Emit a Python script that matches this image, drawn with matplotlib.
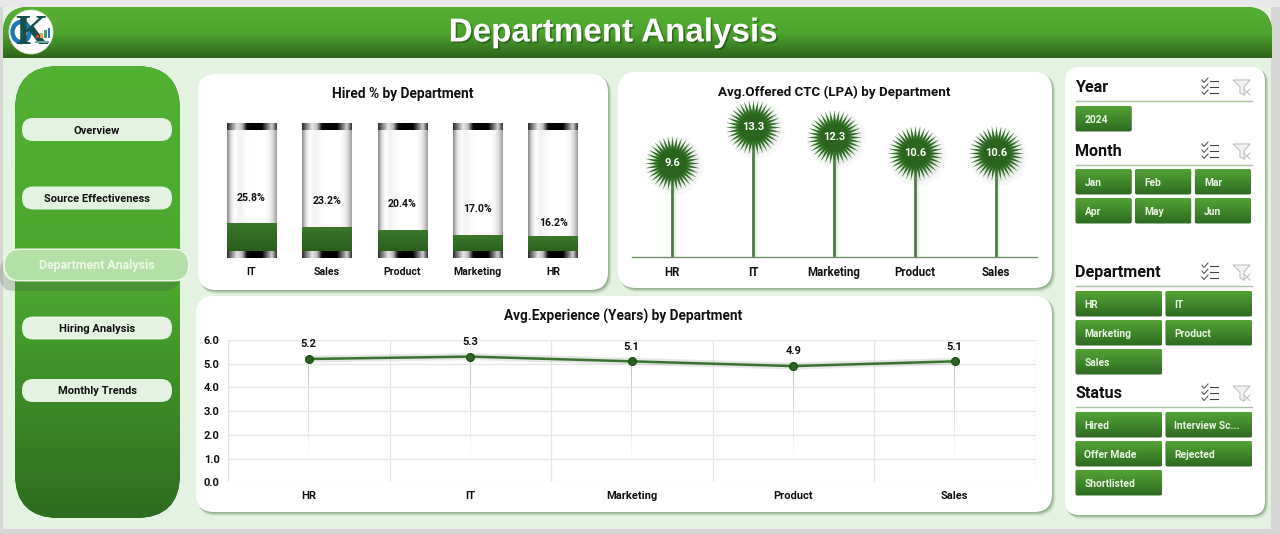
"""Department Analysis dashboard: hired %, offered CTC and experience by department."""

import numpy as np
import matplotlib
matplotlib.use("Agg")
import matplotlib.pyplot as plt
import matplotlib.patheffects as pe
from matplotlib.colors import LinearSegmentedColormap
from matplotlib.patches import FancyBboxPatch, Circle, Rectangle, Polygon, Ellipse
from matplotlib.path import Path

W, H = 1280, 534
FONT = "Roboto"
INK = "#111111"
GREEN_TOP = "#55A636"
GREEN_BOTTOM = "#2F6B22"

# data
hired_departments = ["IT", "Sales", "Product", "Marketing", "HR"]
hired_percent = [25.8, 23.2, 20.4, 17.0, 16.2]

ctc_departments = ["HR", "IT", "Marketing", "Product", "Sales"]
ctc_lpa = [9.6, 13.3, 12.3, 10.6, 10.6]

exp_departments = ["HR", "IT", "Marketing", "Product", "Sales"]
exp_years = [5.2, 5.3, 5.1, 4.9, 5.1]
exp_ticks = [0.0, 1.0, 2.0, 3.0, 4.0, 5.0, 6.0]

nav_items = ["Overview", "Source Effectiveness", "Department Analysis", "Hiring Analysis", "Monthly Trends"]
slicer_years = ["2024"]
slicer_months = ["Jan", "Feb", "Mar", "Apr", "May", "Jun"]
slicer_departments = ["HR", "IT", "Marketing", "Product", "Sales"]
slicer_status = ["Hired", "Interview Sc...", "Offer Made", "Rejected", "Shortlisted"]


def px_axes(fig, x0, y0, x1, y1):
    ax = fig.add_axes([x0 / W, 1 - y1 / H, (x1 - x0) / W, (y1 - y0) / H])
    ax.set_facecolor("none")
    for s in ax.spines.values():
        s.set_visible(False)
    return ax


def box(ax, x0, y0, x1, y1, r, **kw):
    p = FancyBboxPatch((x0, y0), x1 - x0, y1 - y0, boxstyle=f"round,pad=0,rounding_size={r}",
                       linewidth=kw.pop("lw", 0), **kw)
    ax.add_patch(p)
    return p


def gradient(ax, extent, colors, patch=None, zorder=2, horizontal=False):
    """Paint a colour ramp over extent, clipped to patch if there is one."""
    cmap = LinearSegmentedColormap.from_list("g", colors)
    ramp = np.linspace(0, 1, 128)
    ramp = ramp[None, :] if horizontal else ramp[:, None]
    im = ax.imshow(ramp, cmap=cmap, extent=extent, aspect="auto", zorder=zorder, interpolation="bilinear")
    if patch is not None:
        im.set_clip_path(patch)
    return im


def panel(ax, x0, y0, x1, y1, r=18):
    for i, a in zip((5, 3.5, 2), (0.12, 0.22, 0.45)):
        box(ax, x0 + i * 0.5, y0 + i * 0.5, x1 + i * 0.7, y1 + i * 0.8, r, facecolor="#6F9168", alpha=a, zorder=1)
    box(ax, x0, y0, x1, y1, r, facecolor="white", zorder=1.5)


def slicer_header(ax, label, y):
    ax.text(1075.5, y + 1, label, fontsize=11.6, fontweight="bold", family=FONT, color=INK, va="center", zorder=3)
    ax.plot([1076, 1252], [y + 14, y + 14], color="#A5C69E", lw=1, zorder=3)
    # check list icon
    for dy in (-6, 0, 6):
        ax.plot([1202, 1204, 1208], [y + dy - 1, y + dy + 1.5, y + dy - 3], color="#444444", lw=0.7, zorder=3)
        ax.plot([1210, 1218], [y + dy, y + dy], color="#444444", lw=0.8, zorder=3)
    # clear filter icon
    ax.add_patch(Polygon([(1233, y - 7), (1250, y - 7), (1244, y + 0), (1244, y + 8), (1240, y + 6), (1240, y + 0)],
                         closed=True, facecolor="#F2F2F2", edgecolor="#C0C0C0", lw=0.8, zorder=3))
    ax.plot([1244, 1250], [y + 2, y + 8], color="#C0C0C0", lw=0.8, zorder=3)
    ax.plot([1244, 1250], [y + 8, y + 2], color="#C0C0C0", lw=0.8, zorder=3)


def slicer_buttons(ax, labels, top, ncol):
    width = 56 if ncol == 3 else 86.5
    step = 59.7 if ncol == 3 else 90
    for i, label in enumerate(labels):
        row, col = divmod(i, ncol)
        x0 = 1075.5 + col * step
        y0 = top + row * 29
        p = box(ax, x0, y0, x0 + width, y0 + 25.5, 2, facecolor=GREEN_BOTTOM, zorder=2.5)
        gradient(ax, (x0, x0 + width, y0 + 25.5, y0), [GREEN_TOP, GREEN_BOTTOM], p, zorder=2.6)
        ax.text(x0 + 9, y0 + 14, label, fontsize=7.4, fontweight="bold", family=FONT, color="#EAF4E6",
                va="center", zorder=3)


fig = plt.figure(figsize=(W / 100, H / 100), dpi=100, facecolor="#D6D6D6")

# background layer in pixel coordinates
bg = fig.add_axes([0, 0, 1, 1], zorder=0)
bg.set_xlim(0, W)
bg.set_ylim(H, 0)
bg.autoscale(False)
bg.axis("off")
bg.add_patch(Rectangle((3, 7), 1267.5, 521.5, facecolor="#E4F2E1", lw=0))
bg.add_patch(Rectangle((0, 0), W, 7, facecolor="#E8E8EA", lw=0))

# header band
head = box(bg, 3, 7, 1272, 90, 26, facecolor=GREEN_BOTTOM, zorder=1)
clip = Rectangle((0, 0), W, 58, transform=bg.transData)
head.set_clip_path(clip)
im = gradient(bg, (3, 1272, 58, 7), ["#56B032", "#4FA52F", "#2E651C"], head, zorder=1.1)
bg.text(612.5, 33, "Department Analysis", fontsize=23.9, fontweight="bold", family="Liberation Sans",
        color="white", ha="center", va="center", zorder=3,
        path_effects=[pe.withSimplePatchShadow(offset=(1.2, -1.2), shadow_rgbFace="#1B4510", alpha=0.55)])

# logo
bg.add_patch(Circle((31, 32), 22, facecolor="white", edgecolor="#D6E6D0", lw=0.6, zorder=3))
bg.add_patch(Ellipse((21, 32), 17, 20, facecolor="none", edgecolor="#1C78B8", lw=3.2, zorder=3.05))
bg.text(31, 34, "K", fontsize=30, fontweight="bold", family="Liberation Serif", color="#15504A",
        ha="center", va="center", zorder=3.2)
for bx, bh, bc in zip((36, 40, 44, 47.5), (3, 5, 8, 10), ("#D8432B", "#E8A23A", "#3E9C8C", "#2F78B5")):
    bg.add_patch(Rectangle((bx, 38 - bh), 2.6, bh, facecolor=bc, lw=0, zorder=3.3))
bg.add_patch(Rectangle((35, 41), 14, 2, facecolor="#6FA8A0", lw=0, zorder=3.3))

# navigation sidebar
side = box(bg, 15, 66, 180, 518, 44, facecolor=GREEN_BOTTOM, zorder=1)
gradient(bg, (15, 180, 518, 66), ["#52B033", "#4BA52F", "#2E6C20"], side, zorder=1.1)
nav_y = [129.5, 198, 265, 328, 390.5]
for label, y in zip(nav_items, nav_y):
    if label == "Department Analysis":
        box(bg, 0, y - 8, 178, y + 26, 14, facecolor="#4A4F48", alpha=0.22, zorder=2)
        box(bg, 3, y - 16.5, 190, y + 16.5, 16, facecolor="#EAF7E6", zorder=2.1)
        box(bg, 5, y - 15, 188, y + 15, 15, facecolor="#B3E0A6", zorder=2.2)
        bg.text(96.5, y + 1, label, fontsize=8.9, fontweight="bold", family=FONT, color="#EDF8E9",
                ha="center", va="center", zorder=3)
    else:
        box(bg, 22, y - 11.5, 172, y + 11.5, 11, facecolor="#E4F2E1", zorder=2)
        bg.text(97, y + 1, label, fontsize=8, fontweight="bold", family=FONT, color=INK,
                ha="center", va="center", zorder=3)

# white cards
panel(bg, 198, 74, 608, 290)
panel(bg, 618, 72, 1052, 288)
panel(bg, 196, 296, 1052, 512)
panel(bg, 1065, 67, 1265, 515, r=14)

# slicers
slicer_header(bg, "Year", 87)
slicer_buttons(bg, slicer_years, 106, 3)
slicer_header(bg, "Month", 151)
slicer_buttons(bg, slicer_months, 169, 3)
slicer_header(bg, "Department", 272)
slicer_buttons(bg, slicer_departments, 291, 2)
slicer_header(bg, "Status", 393)
slicer_buttons(bg, slicer_status, 412, 2)

# hired % tubes
ax1 = px_axes(fig, 213.8, 123, 590.8, 258)
ax1.set_xlim(-0.5, 4.5)
ax1.set_ylim(0, 100)
ax1.autoscale(False)
xs = np.arange(len(hired_departments))
bar_w = 0.655
glass = ["#8A8A8A", "#E0E0E0", "#FFFFFF", "#F2F2F2", "#F6F6F6", "#FCFCFC", "#FFFFFF", "#FFFFFF", "#FFFFFF",
         "#FFFFFF", "#FFFFFF", "#F4F4F4", "#D8D8D8", "#A0A0A0"]
cap = ["#2A2A2A", "#8A8A8A", "#E8E8E8", "#BBBBBB", "#0A0A0A", "#000000", "#000000", "#000000", "#666666", "#D0D0D0", "#333333"]
bars = ax1.bar(xs, hired_percent, width=bar_w, color="#2F661F", zorder=2)
for x, rect in zip(xs, bars):
    left, right = x - bar_w / 2, x + bar_w / 2
    gradient(ax1, (left, right, 0, 100), glass, zorder=1, horizontal=True)
    gradient(ax1, (left, right, 0, rect.get_height()), ["#3B782B", "#27561A"], rect, zorder=2.1)
    gradient(ax1, (left, right, 95, 100), cap, zorder=3, horizontal=True)
    gradient(ax1, (left, right, 0, 5), cap, zorder=3, horizontal=True)
for x, v, lift in zip(xs, hired_percent, [19, 19, 19.5, 19.5, 9.5]):
    ax1.text(x, v + lift, f"{v:.1f}%", fontsize=7.6, fontweight="bold", family=FONT, color=INK,
             ha="center", va="center", zorder=4)
ax1.set_xticks(xs, hired_departments, fontsize=7.6, fontweight="bold", family=FONT, color=INK)
ax1.set_yticks([])
ax1.tick_params(axis="x", length=0, pad=6.3)
ax1.set_title("Hired % by Department", fontsize=9.9, fontweight="bold", family=FONT, color=INK, pad=18)

# offered CTC lollipops
ax2 = px_axes(fig, 631.5, 120, 1036.5, 256.7)
ax2.set_xlim(-0.5, 4.5)
ax2.set_ylim(0, 14)
ax2.autoscale(False)
xs = np.arange(len(ctc_departments))
star = Path.unit_regular_star(36, innerCircle=0.58)
ax2.spines["bottom"].set_visible(True)
ax2.spines["bottom"].set_color("#6E8F68")
ax2.spines["bottom"].set_linewidth(1)
ax2.vlines(xs + 0.025, 0, ctc_lpa, color="#C9D6C6", lw=3, alpha=0.35, zorder=1)
ax2.vlines(xs, 0, ctc_lpa, color="#4F7C48", lw=2, zorder=2)
for ms, a in zip((42, 36, 30), (0.06, 0.08, 0.1)):
    ax2.plot(xs + 0.02, np.array(ctc_lpa) - 0.25, ls="none", marker="o", ms=ms, mfc="#7C8A7A", mec="none", alpha=a,
             zorder=2, clip_on=False)
ax2.plot(xs, ctc_lpa, ls="none", marker=star, ms=40, mfc="#4A8540", mec="none", zorder=3, clip_on=False)
ax2.plot(xs, ctc_lpa, ls="none", marker=star, ms=34, mfc="#2E6922", mec="none", zorder=3.1, clip_on=False)
ax2.plot(xs, ctc_lpa, ls="none", marker="o", ms=20, mfc="#2A641E", mec="none", zorder=3.2, clip_on=False)
for x, v in zip(xs, ctc_lpa):
    ax2.text(x, v, f"{v:.1f}", fontsize=8, fontweight="bold", family=FONT, color="white",
             ha="center", va="center", zorder=4)
ax2.set_xticks(xs, ctc_departments, fontsize=8.3, fontweight="bold", family=FONT, color=INK)
ax2.set_yticks([])
ax2.tick_params(axis="x", length=0, pad=7)
ax2.set_title("Avg.Offered CTC (LPA) by Department", fontsize=9.6, fontweight="bold", family=FONT, color=INK, pad=17)

# experience line
ax3 = px_axes(fig, 228, 340, 1035.5, 482.3)
ax3.set_xlim(-0.5, 4.5)
ax3.set_ylim(0, 6)
ax3.autoscale(False)
xs = np.arange(len(exp_departments))
ax3.set_yticks(exp_ticks, [f"{t:.1f}" for t in exp_ticks], fontsize=8, fontweight="bold", family=FONT, color=INK)
ax3.set_xticks(xs, exp_departments, fontsize=8, fontweight="bold", family=FONT, color=INK)
ax3.set_xticks(np.arange(-0.5, 5.0, 1.0), minor=True)
ax3.tick_params(axis="both", which="both", length=0)
ax3.tick_params(axis="x", pad=6)
ax3.tick_params(axis="y", pad=6)
ax3.grid(axis="y", color="#E6E6E6", lw=0.9, zorder=0)
ax3.grid(axis="x", which="minor", color="#E6E6E6", lw=0.9, zorder=0)
ax3.grid(axis="x", which="major", visible=False)
for x, v in zip(xs, exp_years):
    # drop line fading out towards the axis
    cmap = LinearSegmentedColormap.from_list("f", [(0.45, 0.7, 0.42, 0.6), (0.45, 0.7, 0.42, 0.0)])
    ax3.imshow(np.linspace(0, 1, 64)[:, None], cmap=cmap, extent=(x - 0.003, x + 0.003, 0.8, v),
               aspect="auto", zorder=1, interpolation="bilinear")
ax3.plot(xs, exp_years, color="#7A8F76", lw=5, alpha=0.2, zorder=2, solid_capstyle="round")
ax3.plot(xs, exp_years, color="#3A7230", lw=1.8, zorder=3, marker="o", ms=5.5, mfc="#2A6420", mec="#1F4F17")
for x, v in zip(xs, exp_years):
    ax3.annotate(f"{v:.1f}", (x, v), xytext=(0, 7), textcoords="offset points", fontsize=8, fontweight="bold",
                 family=FONT, color=INK, ha="center", va="bottom", zorder=4)
ax3.set_title("Avg.Experience (Years) by Department", fontsize=9.8, fontweight="bold", family=FONT, color=INK,
              pad=14, x=0.489)

fig.savefig("out.png", dpi=100, facecolor=fig.get_facecolor())
plt.close(fig)
